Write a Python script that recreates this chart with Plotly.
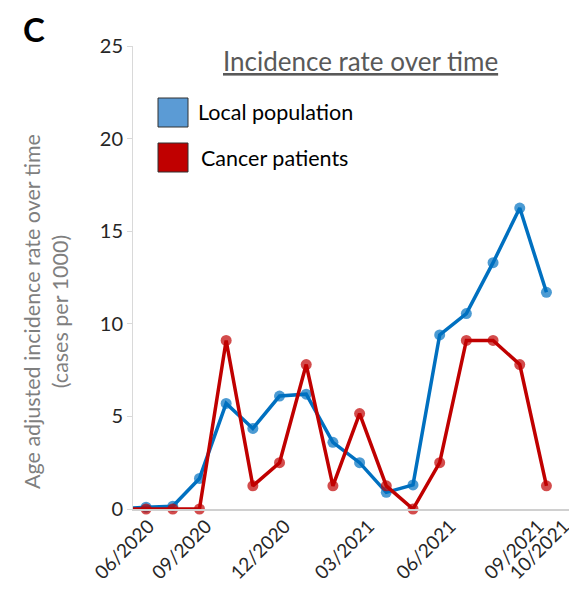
import plotly.graph_objects as go

# data (one point per period, first point sits left of the axis)
periods = list(range(-1, 16))
local_population = [0.0, 0.1, 0.15, 1.65, 5.7, 4.35, 6.1, 6.2, 3.6, 2.5, 0.9, 1.3, 9.4, 10.55, 13.3, 16.25, 11.7]
cancer_patients = [0.0, 0.0, 0.0, 0.0, 9.1, 1.25, 2.5, 7.8, 1.25, 5.15, 1.25, 0.0, 2.5, 9.1, 9.1, 7.8, 1.25]
tick_pos = [0.1, 2.25, 5.2, 8.35, 11.4, 14.7, 15.65]
tick_labels = ["06/2020", "09/2020", "12/2020", "03/2021", "06/2021", "09/2021", "10/2021"]
y_ticks = [0, 5, 10, 15, 20, 25]

BLUE = "#0070C0"
RED = "#C00000"
FONT = "Lato"

# page has an 8px body margin, so the figure is shifted by OFF
OFF = 8
PAGE_W, PAGE_H = 577, 595
# plot area in page pixels
L, R, T, B = 133, 575, 46, 509


def px(x):
    return (x - L) / (R - L)


def py(y):
    return (B - y) / (B - T)


sizes = [0] + [11] * (len(periods) - 1)

fig = go.Figure()
fig.add_trace(go.Scatter(x=periods, y=local_population, mode="lines+markers",
                         line=dict(color=BLUE, width=3.5),
                         marker=dict(color=BLUE, size=sizes, line=dict(width=0)),
                         cliponaxis=False, showlegend=False))
fig.add_trace(go.Scatter(x=periods, y=cancer_patients, mode="lines+markers",
                         line=dict(color=RED, width=3.5),
                         marker=dict(color=RED, size=sizes, line=dict(width=0)),
                         cliponaxis=False, showlegend=False))

fig.update_xaxes(range=[-0.49, 16.07], tickmode="array", tickvals=tick_pos, ticktext=tick_labels,
                 tickangle=-45, showgrid=False, zeroline=False, showline=True, linecolor="#d0d0d0",
                 linewidth=1.5, ticks="", ticklabelstandoff=-3, ticklabeloverflow="allow",
                 tickfont=dict(family=FONT, size=19, color="#262626"))
fig.update_yaxes(range=[0, 25], tickvals=y_ticks, showgrid=False, zeroline=False, showline=True,
                 linecolor="#d9d9d9", linewidth=1, ticks="outside", ticklen=5, tickcolor="#d9d9d9",
                 tickfont=dict(family=FONT, size=20, color="#262626"))

shapes = []
annotations = []
# legend swatches
for (y0, y1), col in [((98, 127), "#5B9BD5"), ((143, 172), RED)]:
    shapes.append(dict(type="rect", xref="paper", yref="paper", x0=px(158), x1=px(188),
                       y0=py(y1), y1=py(y0), fillcolor=col, line=dict(color="#303030", width=1)))
annotations.append(dict(text="Local population", x=px(196), y=py(112), xref="paper", yref="paper",
                        xanchor="left", yanchor="middle", showarrow=False,
                        font=dict(family=FONT, size=21.5, color="#000000")))
annotations.append(dict(text="Cancer patients", x=px(199), y=py(158), xref="paper", yref="paper",
                        xanchor="left", yanchor="middle", showarrow=False,
                        font=dict(family=FONT, size=21.5, color="#000000")))
# chart title
annotations.append(dict(text="<u>Incidence rate over time</u>", x=px(360), y=py(61), xref="paper",
                        yref="paper", xanchor="center", yanchor="middle", showarrow=False,
                        font=dict(family=FONT, size=26, color="#595959")))
# y axis title
annotations.append(dict(text="Age adjusted incidence rate over time<br>(cases per 1000)",
                        x=px(46), y=py(312), xref="paper", yref="paper", textangle=-90,
                        xanchor="center", yanchor="middle", showarrow=False,
                        font=dict(family=FONT, size=21.5, color="#7f7f7f")))
# panel letter
annotations.append(dict(text="<b>C</b>", x=px(22), y=py(OFF), xref="paper", yref="paper",
                        xanchor="left", yanchor="top", showarrow=False, borderpad=0,
                        font=dict(family=FONT, size=33, color="#000000")))

W, H = PAGE_W - OFF, PAGE_H - OFF
fig.update_layout(width=W, height=H,
                  margin=dict(l=L - OFF, r=PAGE_W - R, t=T - OFF, b=PAGE_H - B),
                  plot_bgcolor="white", paper_bgcolor="white", shapes=shapes, annotations=annotations)

fig.write_html("out.html")
